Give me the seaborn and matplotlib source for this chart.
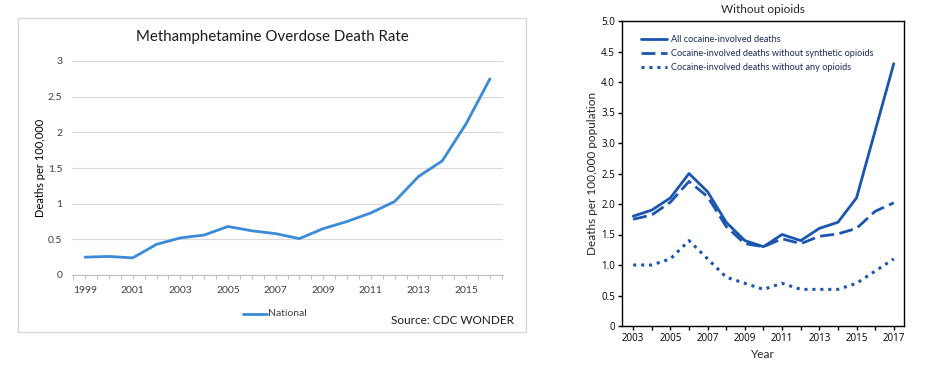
import matplotlib
matplotlib.use("Agg")
import matplotlib.pyplot as plt
import seaborn as sns
import numpy as np
from matplotlib.patches import Rectangle
from matplotlib.lines import Line2D
from matplotlib.ticker import FixedLocator, FuncFormatter

sns.set_theme(style="white")
plt.rcParams['font.family'] = ['Lato', 'DejaVu Sans']

# ---- Left panel data ----
meth_years = list(range(1999, 2017))
meth_rate = [0.25, 0.26, 0.24, 0.43, 0.52, 0.56, 0.68, 0.62, 0.58, 0.51,
             0.65, 0.75, 0.87, 1.03, 1.38, 1.60, 2.12, 2.75]
meth_label = "National"
left_title = "Methamphetamine Overdose Death Rate"
left_ylabel = "Deaths per 100,000"
left_source = "Source: CDC WONDER"

# ---- Right panel data ----
coc_years = list(range(2003, 2018))
coc_all = [1.8, 1.9, 2.1, 2.5, 2.2, 1.7, 1.4, 1.3, 1.5, 1.4, 1.6, 1.7, 2.1, 3.2, 4.3]
coc_no_synth = [1.75, 1.82, 2.03, 2.37, 2.12, 1.63, 1.35, 1.30, 1.43, 1.35, 1.47, 1.51, 1.60, 1.88, 2.02]
coc_no_opioid = [1.0, 1.0, 1.1, 1.4, 1.1, 0.8, 0.7, 0.6, 0.7, 0.6, 0.6, 0.6, 0.7, 0.9, 1.1]
coc_labels = ["All cocaine-involved deaths",
              "Cocaine-involved deaths without synthetic opioids",
              "Cocaine-involved deaths without any opioids"]
right_title = "Without opioids"
right_ylabel = "Deaths per 100,000 population"
right_xlabel = "Year"

W, H = 929, 365
fig = plt.figure(figsize=(W / 100, H / 100), dpi=100)

def fx(px):
    return px / W

def fy(py):
    return 1 - py / H

# border box of left chart
fig.patches.append(Rectangle((fx(18), fy(332)), fx(526) - fx(18), fy(18) - fy(332),
                             transform=fig.transFigure, fill=False,
                             edgecolor="#d9d9d9", linewidth=1.0))

# ---------- Left axes ----------
axL = fig.add_axes([fx(72), fy(275), fx(503) - fx(72), fy(61) - fy(275)])
lc = "#3a8ad9"
sns.lineplot(x=meth_years, y=meth_rate, ax=axL, color=lc, linewidth=2.0)
axL.set_xlim(1998.45, 2016.55)
axL.set_ylim(0, 3)
axL.set_yticks([0, 0.5, 1, 1.5, 2, 2.5, 3])
axL.yaxis.set_major_formatter(FuncFormatter(lambda v, p: f"{v:g}"))
axL.set_xticks(list(range(1999, 2017, 2)))
axL.xaxis.set_minor_locator(FixedLocator([y / 2 for y in range(2 * 1998 + 1, 2 * 2017)]))
axL.grid(axis="y", color="#d9d9d9", linewidth=0.8)
axL.set_axisbelow(True)
for s in ["left", "right", "top"]:
    axL.spines[s].set_visible(False)
axL.spines["bottom"].set_color("#bfbfbf")
axL.spines["bottom"].set_linewidth(0.8)
axL.tick_params(axis="y", length=0, labelsize=7.5, colors="#404040", pad=7)
axL.tick_params(axis="x", which="major", length=3, width=0.8, color="#bfbfbf", labelsize=7.5,
                colors="#404040", pad=5, direction="out", bottom=True)
axL.tick_params(axis="x", which="minor", length=3, width=0.8, color="#bfbfbf",
                direction="out", bottom=True)
axL.set_xlabel("")
axL.set_ylabel(left_ylabel, fontsize=8, color="#000000", labelpad=1)
fig.text(fx(272), fy(37), left_title, ha="center", va="center", fontsize=10.8, color="#1a1a1a")
fig.text(fx(453), fy(320), left_source, ha="center", va="center", fontsize=8.5, color="#1a1a1a")
# legend for left chart
fig.lines.append(Line2D([fx(243), fx(267)], [fy(314), fy(314)], transform=fig.transFigure,
                        color=lc, linewidth=2.0))
fig.text(fx(268), fy(314), meth_label, ha="left", va="center", fontsize=7.5, color="#404040")

# ---------- Right axes ----------
axR = fig.add_axes([fx(622), fy(326), fx(904) - fx(622), fy(21) - fy(326)])
rc = "#1a55b0"
sns.lineplot(x=coc_years, y=coc_all, ax=axR, color=rc, linewidth=2.0,
             linestyle="-", label=coc_labels[0])
sns.lineplot(x=coc_years, y=coc_no_synth, ax=axR, color=rc, linewidth=2.0,
             linestyle=(0, (5, 2)), label=coc_labels[1])
sns.lineplot(x=coc_years, y=coc_no_opioid, ax=axR, color=rc, linewidth=2.2,
             linestyle=(0, (1, 1.6)), label=coc_labels[2])
axR.set_xlim(2002.4, 2017.55)
axR.set_ylim(0, 5)
axR.set_yticks(np.arange(0, 5.01, 0.5))
axR.yaxis.set_major_formatter(FuncFormatter(lambda v, p: "0" if v == 0 else f"{v:.1f}"))
axR.set_xticks(list(range(2003, 2018, 2)))
axR.xaxis.set_minor_locator(FixedLocator(list(range(2004, 2017, 2))))
for s in axR.spines.values():
    s.set_color("#000000")
    s.set_linewidth(1.0)
axR.tick_params(axis="both", which="major", length=3, width=1, color="#000000",
                labelsize=7, colors="#000000", direction="out", pad=2)
axR.tick_params(axis="x", which="minor", length=3, width=1, color="#000000",
                direction="out", bottom=True)
axR.tick_params(axis="y", left=True)
axR.tick_params(axis="x", bottom=True)
for lab in axR.get_xticklabels() + axR.get_yticklabels():
    lab.set_family(['Open Sans', 'DejaVu Sans'])
axR.set_xlabel(right_xlabel, fontsize=8.5, labelpad=4)
axR.set_ylabel(right_ylabel, fontsize=8.5, labelpad=2)
axR.set_title(right_title, fontsize=8.5, pad=6)
leg = axR.legend(loc="upper left", frameon=False, fontsize=6.6, handlelength=2.8,
                 handletextpad=0.5, borderaxespad=0.3, labelspacing=0.55,
                 bbox_to_anchor=(0.045, 0.975))
for t in leg.get_texts():
    t.set_color("#1a2a5a")

fig.savefig("out.png", dpi=100)
